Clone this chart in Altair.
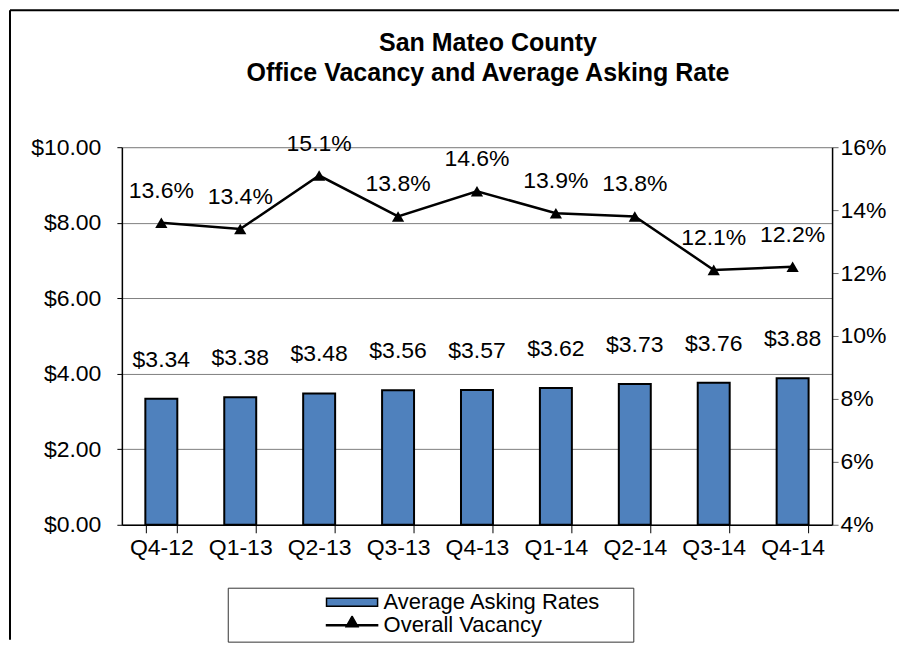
import altair as alt
import pandas as pd

quarters = ["Q4-12", "Q1-13", "Q2-13", "Q3-13", "Q4-13", "Q1-14", "Q2-14", "Q3-14", "Q4-14"]
asking_rates = [3.34, 3.38, 3.48, 3.56, 3.57, 3.62, 3.73, 3.76, 3.88]
vacancy = [0.136, 0.134, 0.151, 0.138, 0.146, 0.139, 0.138, 0.121, 0.122]
series_names = ["Average Asking Rates", "Overall Vacancy"]
left_ticks = [0, 2, 4, 6, 8, 10]
right_ticks = [0.04, 0.06, 0.08, 0.10, 0.12, 0.14, 0.16]
title_lines = ["San Mateo County", "Office Vacancy and Average Asking Rate"]

FONT = "Liberation Sans, Arial, sans-serif"
BLUE = "#4F81BD"
LABEL_SIZE = 23

df = pd.DataFrame({"quarter": quarters, "rate": asking_rates, "vac": vacancy})

x_enc = alt.X(
    "quarter:N",
    sort=quarters,
    title=None,
    scale=alt.Scale(paddingInner=0.595, paddingOuter=0.2975),
    axis=alt.Axis(
        labelAngle=0, labelFontSize=LABEL_SIZE, labelColor="black", labelFont=FONT,
        tickBand="extent", tickSize=8, tickColor="black", domainColor="black",
        domainWidth=1.5, labelPadding=4,
    ),
)

y_left = alt.Y(
    "rate:Q",
    title=None,
    scale=alt.Scale(domain=[0, 10], nice=False),
    axis=alt.Axis(
        values=left_ticks, format="$.2f", labelFontSize=LABEL_SIZE, labelColor="black",
        labelFont=FONT, tickSize=5, tickColor="black", domainColor="black",
        domainWidth=1.5, grid=True, gridColor="#808080", gridWidth=1,
        labelPadding=16,
    ),
)

y_right = alt.Y(
    "vac:Q",
    title=None,
    scale=alt.Scale(domain=[0.04, 0.16], nice=False),
    axis=alt.Axis(
        orient="right", values=right_ticks, format=".0%", labelFontSize=LABEL_SIZE,
        labelColor="black", labelFont=FONT, tickSize=6, tickColor="#666666",
        domainColor="black", domainWidth=1.5, grid=False, labelPadding=2,
    ),
)

base = alt.Chart(df)

bars = base.mark_bar(color=BLUE, stroke="black", strokeWidth=2).encode(x=x_enc, y=y_left)
bar_labels = base.mark_text(
    dy=-39, baseline="middle", fontSize=LABEL_SIZE, font=FONT, color="black"
).encode(x=x_enc, y=y_left, text=alt.Text("rate:Q", format="$.2f"))

left_layer = alt.layer(bars, bar_labels)

line = base.mark_line(color="black", strokeWidth=2.5).encode(x=x_enc, y=y_right)
points = base.mark_point(
    shape="triangle-up", filled=True, color="black", size=150, opacity=1
).encode(x=x_enc, y=y_right)
line_labels = base.mark_text(
    dy=-32, baseline="middle", fontSize=LABEL_SIZE, font=FONT, color="black"
).encode(x=x_enc, y=y_right, text=alt.Text("vac:Q", format=".1%"))

# legend glyphs: wide symbol box (144 px), visible part on its right side
rect_path = "M0.29,-0.056H1V0.056H0.29Z"
line_path = "M0.29,-0.007H1V0.007H0.29Z M0.645,-0.125L0.728,0.021H0.562Z"

legend_props = dict(
    title="\u00a0", titleOrient="right", titleFontSize=10, titlePadding=28,
    orient="none", legendX=106, legendY=441, direction="vertical",
    labelFontSize=22, labelFont=FONT, labelColor="black", labelLimit=400,
    labelOffset=5,
    symbolSize=20736, clipHeight=19, rowPadding=0, padding=5,
    strokeColor="#333333", symbolStrokeColor="black", symbolStrokeWidth=1.5,
    symbolOpacity=1,
)

legend_layer = base.transform_filter("false").mark_point(
    filled=True, opacity=1, strokeWidth=1.5
).encode(
    fill=alt.Fill(
        "quarter:N",
        scale=alt.Scale(domain=series_names, range=[BLUE, "black"]),
        legend=alt.Legend(**legend_props),
    ),
    stroke=alt.Stroke(
        "quarter:N",
        scale=alt.Scale(domain=series_names, range=["black", "black"]),
        legend=alt.Legend(**legend_props),
    ),
    shape=alt.Shape(
        "quarter:N",
        scale=alt.Scale(domain=series_names, range=[rect_path, line_path]),
        legend=alt.Legend(**legend_props),
    ),
)

right_layer = alt.layer(line, points, line_labels, legend_layer)

frame_data = alt.Data(values=[{}])
frame_top = alt.Chart(frame_data).mark_rule(color="black", strokeWidth=2).encode(
    x=alt.value(-112), x2=alt.value(778), y=alt.value(-137)
)
frame_left = alt.Chart(frame_data).mark_rule(color="black", strokeWidth=2).encode(
    x=alt.value(-112), y=alt.value(-137), y2=alt.value(493)
)

chart = (
    alt.layer(left_layer, right_layer, frame_top, frame_left)
    .resolve_scale(y="independent")
    .properties(
        width=711,
        height=378,
        padding=1,
        title=alt.TitleParams(
            text=title_lines, fontSize=25, font=FONT, fontWeight="bold",
            color="black", lineHeight=30, anchor="middle", frame="group",
            dx=11, offset=-77,
        ),
    )
    .configure_view(strokeWidth=0)
    .configure(background="white")
)

chart.save("out.html", embed_options={"renderer": "svg", "actions": False})
